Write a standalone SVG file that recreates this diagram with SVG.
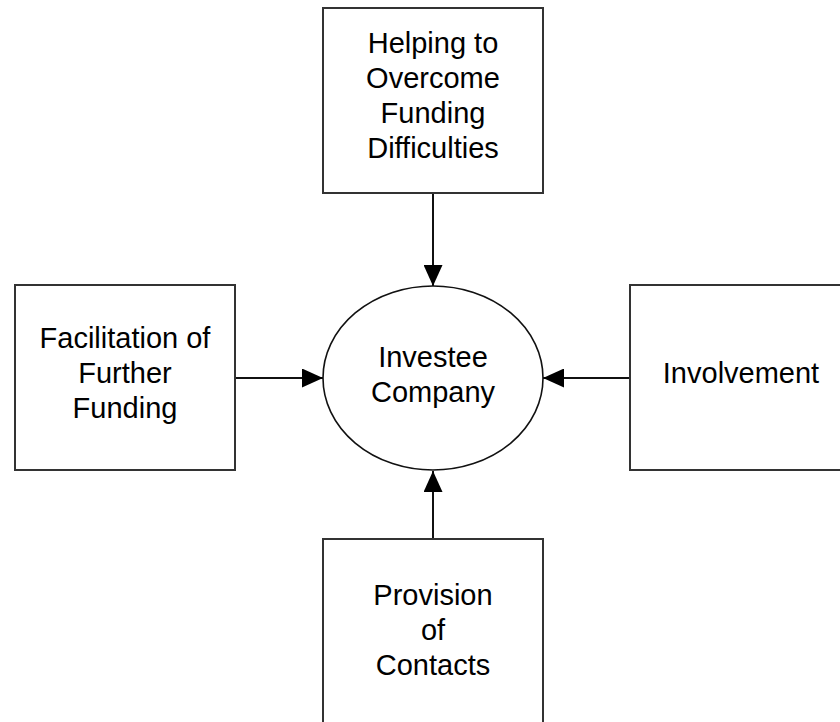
<svg xmlns="http://www.w3.org/2000/svg" width="840" height="722" viewBox="0 0 840 722">
<style>
.box{fill:#fff;stroke:#333;stroke-width:2}
.ell{fill:#fff;stroke:#111;stroke-width:1.6}
.lbl{font-family:"Liberation Sans",Arial,sans-serif;font-size:29px;fill:#000;text-anchor:middle}
.con{stroke:#111;stroke-width:2;fill:none}
</style>
<defs>
<marker id="arr" viewBox="0 0 21 19" refX="21" refY="9.5" markerWidth="21" markerHeight="19" markerUnits="userSpaceOnUse" orient="auto">
<path d="M0,0 L21,9.5 L0,19 Z" fill="#000"/>
</marker>
</defs>
<rect width="840" height="722" fill="#fff"/>
<g id="connectors">
<line class="con" x1="433" y1="193" x2="433" y2="286" marker-end="url(#arr)"/>
<line class="con" x1="235" y1="378" x2="323" y2="378" marker-end="url(#arr)"/>
<line class="con" x1="630" y1="378" x2="543" y2="378" marker-end="url(#arr)"/>
<line class="con" x1="433" y1="539" x2="433" y2="471" marker-end="url(#arr)"/>
</g>
<g id="top">
<rect class="box" x="323" y="8" width="220" height="185"/>
<text class="lbl" x="433" y="53">Helping to</text>
<text class="lbl" x="433" y="88">Overcome</text>
<text class="lbl" x="433" y="123">Funding</text>
<text class="lbl" x="433" y="158">Difficulties</text>
</g>
<g id="left">
<rect class="box" x="15" y="285" width="220" height="185"/>
<text class="lbl" x="125" y="348">Facilitation of</text>
<text class="lbl" x="125" y="383">Further</text>
<text class="lbl" x="125" y="418">Funding</text>
</g>
<g id="right">
<rect class="box" x="630" y="285" width="220" height="185"/>
<text class="lbl" x="741" y="383">Involvement</text>
</g>
<g id="bottom">
<rect class="box" x="323" y="539" width="220" height="195"/>
<text class="lbl" x="433" y="605">Provision</text>
<text class="lbl" x="433" y="640">of</text>
<text class="lbl" x="433" y="675">Contacts</text>
</g>
<g id="center">
<ellipse class="ell" cx="433" cy="378" rx="110" ry="92"/>
<text class="lbl" x="433" y="367">Investee</text>
<text class="lbl" x="433" y="402">Company</text>
</g>
</svg>
